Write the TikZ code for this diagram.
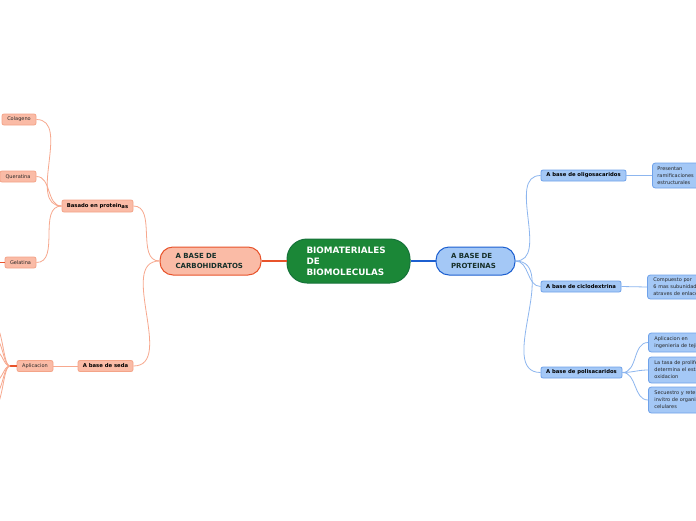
\documentclass[tikz,border=0pt]{standalone}
\usepackage{fontspec}
\setmainfont{DejaVu Sans}
\definecolor{salfill}{HTML}{FABBA6}
\definecolor{salborder}{HTML}{E8532B}
\definecolor{salborder2}{HTML}{F4A488}
\definecolor{salline}{HTML}{F7A88E}
\definecolor{blufill}{HTML}{A4C8F6}
\definecolor{bluborder}{HTML}{1C5FD0}
\definecolor{bluborder2}{HTML}{6FA2EA}
\definecolor{bluline}{HTML}{8DB6EF}
\definecolor{grnfill}{HTML}{1B8737}
\definecolor{grnborder}{HTML}{16733A}
\definecolor{darktxt}{HTML}{17302A}
\begin{document}
\begin{tikzpicture}[x=1pt,y=-1pt,
  central/.style={draw=grnborder,line width=1pt,fill=grnfill,rounded corners=20pt,minimum width=123pt,minimum height=44pt,text width=84pt,align=left,inner sep=0pt,text=white,font=\fontsize{8.8}{11}\selectfont\bfseries},
  lvlone/.style={line width=1pt,rounded corners=13pt,minimum height=28pt,align=left,inner sep=0pt,text=darktxt,font=\fontsize{7}{9.5}\selectfont\bfseries},
  salone/.style={lvlone,draw=salborder,fill=salfill},
  blueone/.style={lvlone,draw=bluborder,fill=blufill},
  lvltwo/.style={line width=0.8pt,rounded corners=2pt,minimum height=11pt,inner sep=0pt,text=black,font=\fontsize{5.3}{6}\selectfont\bfseries},
  saltwo/.style={lvltwo,draw=salborder2,fill=salfill},
  bluetwo/.style={lvltwo,draw=bluborder2,fill=blufill},
  salleaf/.style={line width=0.8pt,rounded corners=2pt,minimum height=11pt,inner sep=0pt,draw=salborder2,fill=salfill,text=black!85,font=\fontsize{5}{6}\selectfont},
  blueleaf/.style={line width=0.8pt,rounded corners=3pt,inner sep=0pt,draw=bluborder2,fill=blufill,text=black!85,align=left,anchor=west,font=\fontsize{5}{7}\selectfont},
  salconn/.style={draw=salline,line width=0.8pt},
  bluconn/.style={draw=bluline,line width=0.8pt}
]
\useasboundingbox[fill=white] (0,0) rectangle (696,520);

% central and level one
\node[central] (root) at (348.5,261) {BIOMATERIALES\\DE\\BIOMOLECULAS};
\node[salone,minimum width=101pt,text width=70pt] (carb) at (210.5,261) {A BASE DE\\CARBOHIDRATOS};
\node[blueone,minimum width=79pt,text width=49pt] (prot) at (475.5,261) {A BASE DE\\PROTEINAS};

\draw[salborder,line width=1.2pt] (root.west) -- (carb.east);
\draw[bluborder,line width=1.2pt] (root.east) -- (prot.west);

% left level two
\node[saltwo,minimum width=71pt,minimum height=12pt] (basado) at (97.5,206) {Basado en protein\raisebox{-1.3pt}{as}};
\node[saltwo,minimum width=55pt] (seda) at (105.5,366) {A base de seda};

\draw[salconn] (carb.west) to[out=180,in=0,looseness=1] (basado.east);
\draw[salconn] (carb.west) to[out=180,in=0,looseness=1] (seda.east);

% left leaves
\node[salleaf,minimum width=34pt] (colageno) at (19,119.5) {Colageno};
\node[salleaf,minimum width=36pt] (queratina) at (18,176.5) {Queratina};
\node[salleaf,minimum width=31pt] (gelatina) at (20.5,262.5) {Gelatina};
\node[salleaf,minimum width=36pt] (aplic) at (35,366) {Aplicacion};

\draw[salconn] (basado.west) to[out=180,in=0] (colageno.east);
\draw[salconn] (basado.west) to[out=180,in=0] (queratina.east);
\draw[salconn] (basado.west) to[out=180,in=0] (gelatina.east);
\draw[salconn] (seda.west) -- (aplic.east);

% off-canvas continuations
\coordinate (gelout) at (-20,262.5);
\draw[salborder,line width=0.8pt] (gelatina.west) -- (gelout);
\coordinate (aphub) at (10,366);
\draw[salborder,line width=1.6pt] (aplic.west) -- (aphub);
\foreach \yy/\nm in {318/ap1,333/ap2,348/ap3,384/ap4,399/ap5,414/ap6}{
  \coordinate (\nm) at (-12,\yy);
  \draw[salconn] (aphub) .. controls (2,366) and (4,\yy) .. (\nm);
}

% right level two
\node[bluetwo,minimum width=85pt] (oligo) at (583.5,175.5) {A base de oligosacaridos};
\node[bluetwo,minimum width=80pt] (ciclo) at (581,286.5) {A base de ciclodextrina};
\node[bluetwo,minimum width=81pt] (polis) at (581.5,372.5) {A base de polisacaridos};

\draw[bluconn] (prot.east) to[out=0,in=180] (oligo.west);
\draw[bluconn] (prot.east) to[out=0,in=180] (ciclo.west);
\draw[bluconn] (prot.east) to[out=0,in=180] (polis.west);

% right leaves
\node[blueleaf,minimum width=48pt,minimum height=25pt,text width=44pt] (pres) at (652,175.5) {\hspace*{3pt}Presentan\\\hspace*{3pt}ramificaciones\\\hspace*{3pt}estructurales};
\node[blueleaf,minimum width=70pt,minimum height=24pt,text width=66pt] (comp) at (647,287) {\hspace*{4pt}Compuesto por\\\hspace*{4pt}6 mas subunidades\\\hspace*{4pt}atraves de enlaces};
\node[blueleaf,minimum width=70pt,minimum height=19pt,text width=66pt] (apl2) at (648,342.5) {\hspace*{4pt}Aplicacion en\\\hspace*{4pt}ingenieria de tejidos};
\node[blueleaf,minimum width=80pt,minimum height=26pt,text width=76pt] (tasa) at (648,370) {\hspace*{4pt}La tasa de proliferacion\\\hspace*{4pt}determina el estado de\\\hspace*{4pt}oxidacion};
\node[blueleaf,minimum width=80pt,minimum height=26pt,text width=76pt] (secu) at (648,400) {\hspace*{4pt}Secuestro y retencion\\\hspace*{4pt}invitro de organismos\\\hspace*{4pt}celulares};

\draw[bluconn] (oligo.east) -- (pres.west);
\draw[bluconn] (ciclo.east) -- (comp.west);
\draw[bluconn] (polis.east) to[out=0,in=180] (apl2.west);
\draw[bluconn] (polis.east) to[out=0,in=180] (tasa.west);
\draw[bluconn] (polis.east) to[out=0,in=180] (secu.west);
\end{tikzpicture}
\end{document}
